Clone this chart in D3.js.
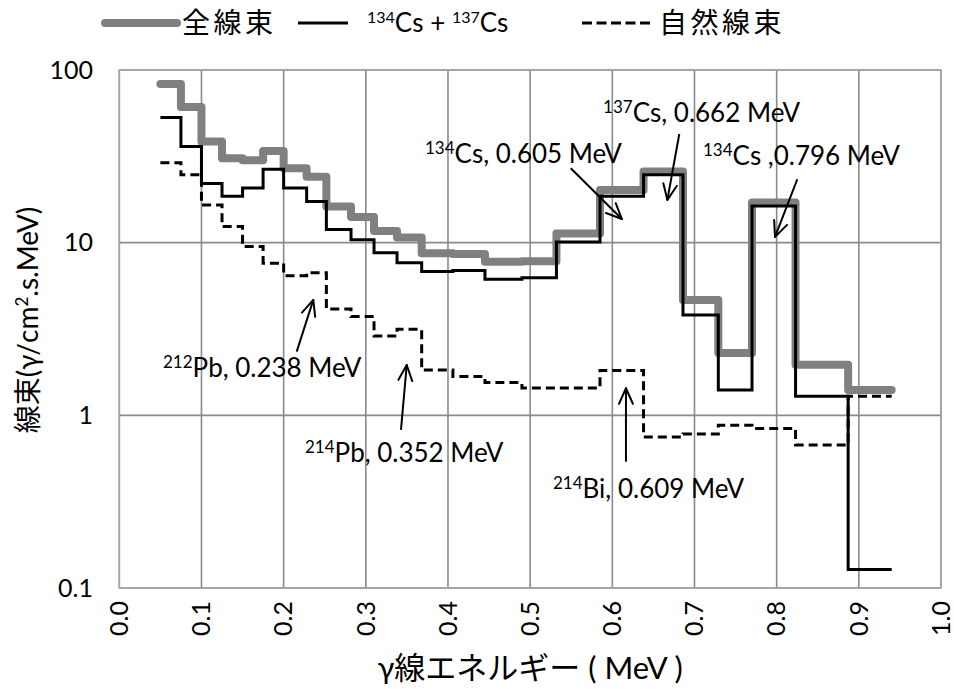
<!DOCTYPE html>
<html>
<head>
<meta charset="utf-8">
<script src="https://cdn.jsdelivr.net/npm/d3@7"></script>
<style>
  html, body { margin: 0; padding: 0; background: #fff; }
  svg { display: block; }
  text { font-family: Lato, "Noto Sans CJK JP", sans-serif; fill: #000; }
</style>
</head>
<body>
<svg id="chart" width="954" height="689"></svg>
<script>
// Energy bin edges (MeV) for the step spectra
const binEdges = [0.05, 0.075, 0.1, 0.125, 0.15, 0.175, 0.2, 0.228, 0.252, 0.282, 0.31, 0.338,
  0.368, 0.406, 0.445, 0.49, 0.532, 0.585, 0.638, 0.686, 0.729, 0.77, 0.823, 0.887, 0.94];

// Flux per bin (γ/cm².s.MeV)
const totalFlux = [83, 61, 38.5, 30.8, 30, 34, 27, 24.1, 16.2, 14.1, 11.7, 10.7,
  8.69, 8.6, 7.76, 7.8, 11.3, 20.2, 25.8, 4.66, 2.3, 17.1, 1.96, 1.40];
const csFlux = [53, 36, 22, 18.6, 20.7, 26.6, 20.7, 17.3, 11.9, 10.4, 8.75, 7.66,
  6.8, 6.9, 6.14, 6.26, 10.1, 18.6, 24.7, 3.81, 1.40, 16.3, 1.29, 0.128];
const naturalFlux = [29, 24.7, 16.5, 12.4, 9.5, 7.6, 6.44, 6.7, 4.13, 3.73, 2.88, 3.15,
  1.83, 1.68, 1.55, 1.44, 1.44, 1.82, 0.75, 0.78, 0.875, 0.84, 0.674, 1.29];

// Axis ticks
const xTicks = [0.0, 0.1, 0.2, 0.3, 0.4, 0.5, 0.6, 0.7, 0.8, 0.9, 1.0];
const yTicks = [0.1, 1, 10, 100];
const yTickLabels = ["0.1", "1", "10", "100"];

// Peak annotations: tip / tail of the arrow and label anchor, in (MeV, flux)
const peakLabels = [
  { iso: "134", rest: "Cs, 0.605 MeV", at: [0.372, 28.9], tail: [0.5494, 27.0], tip: [0.6116, 13.7] },
  { iso: "137", rest: "Cs, 0.662 MeV", at: [0.5887, 50.2], tail: [0.6815, 42.6], tip: [0.667, 17.7] },
  { iso: "134", rest: "Cs ,0.796 MeV", at: [0.7103, 28.2], tail: [0.8251, 23.3], tip: [0.798, 10.8] },
  { iso: "212", rest: "Pb, 0.238 MeV", at: [0.0532, 1.675], tail: [0.2159, 2.34], tip: [0.2361, 4.66] },
  { iso: "214", rest: "Pb, 0.352 MeV", at: [0.226, 0.539], tail: [0.3428, 0.823], tip: [0.3498, 1.957] },
  { iso: "214", rest: "Bi, 0.609 MeV", at: [0.5278, 0.334], tail: [0.6166, 0.539], tip: [0.6166, 1.435] }
];

const svg = d3.select("#chart");
const plot = { left: 119.3, right: 941, top: 70, bottom: 588 };

const x = d3.scaleLinear().domain([0, 1]).range([plot.left, plot.right]);
const y = d3.scaleLog().domain([0.1, 100]).range([plot.bottom, plot.top]);

const gridColor = "#8a8a8a";

// Grid
svg.append("g").selectAll("line.vg").data(xTicks).join("line")
  .attr("x1", d => x(d)).attr("x2", d => x(d))
  .attr("y1", plot.top).attr("y2", plot.bottom)
  .attr("stroke", gridColor).attr("stroke-width", 1.6);
svg.append("g").selectAll("line.hg").data(yTicks).join("line")
  .attr("x1", plot.left).attr("x2", plot.right)
  .attr("y1", d => y(d)).attr("y2", d => y(d))
  .attr("stroke", gridColor).attr("stroke-width", 1.6);
svg.append("rect")
  .attr("x", plot.left).attr("y", plot.top)
  .attr("width", plot.right - plot.left).attr("height", plot.bottom - plot.top)
  .attr("fill", "none").attr("stroke", "#a6a6a6").attr("stroke-width", 1.6);

// Y tick labels
svg.append("g").selectAll("text").data(yTicks).join("text")
  .attr("x", 93).attr("y", d => y(d)).attr("dy", "0.35em")
  .attr("text-anchor", "end").attr("font-size", 25)
  .text((d, i) => yTickLabels[i]);

// X tick labels, rotated
svg.append("g").selectAll("text").data(xTicks).join("text")
  .attr("transform", d => `translate(${x(d)},601) rotate(-90)`)
  .attr("dy", "0.35em").attr("text-anchor", "end").attr("font-size", 25)
  .text(d => d.toFixed(1));

// Axis titles
svg.append("text")
  .attr("x", (plot.left + plot.right) / 2).attr("y", 679)
  .attr("text-anchor", "middle").attr("font-size", 31)
  .text("γ線エネルギー ( MeV )");

const yTitle = svg.append("text")
  .attr("transform", `translate(38,${(plot.top + plot.bottom) / 2 - 9}) rotate(-90)`)
  .attr("text-anchor", "middle").attr("font-size", 28);
yTitle.append("tspan").text("線束(γ/cm");
yTitle.append("tspan").attr("dy", -10).attr("font-size", 17).text("2");
yTitle.append("tspan").attr("dy", 10).text(".s.MeV)");

// Step lines
const stepLine = d3.line()
  .x(d => x(d[0])).y(d => y(d[1]))
  .curve(d3.curveStepAfter);
const toSteps = vals => binEdges.map((e, i) => [e, vals[Math.min(i, vals.length - 1)]]);

svg.append("path").datum(toSteps(totalFlux))
  .attr("d", stepLine).attr("fill", "none")
  .attr("stroke", "#808080").attr("stroke-width", 8)
  .attr("stroke-linejoin", "round").attr("stroke-linecap", "round");
svg.append("path").datum(toSteps(csFlux))
  .attr("d", stepLine).attr("fill", "none")
  .attr("stroke", "#000").attr("stroke-width", 3);
svg.append("path").datum(toSteps(naturalFlux))
  .attr("d", stepLine).attr("fill", "none")
  .attr("stroke", "#000").attr("stroke-width", 3)
  .attr("stroke-dasharray", "9,5");

// Annotations with open arrowheads
const ann = svg.append("g");
peakLabels.forEach(p => {
  const t = ann.append("text")
    .attr("x", x(p.at[0])).attr("y", y(p.at[1])).attr("font-size", 26);
  t.append("tspan").attr("font-size", 17).attr("dy", -9).text(p.iso);
  t.append("tspan").attr("dy", 9).text(p.rest);

  const x0 = x(p.tail[0]), y0 = y(p.tail[1]);
  const x1 = x(p.tip[0]), y1 = y(p.tip[1]);
  ann.append("line").attr("x1", x0).attr("y1", y0).attr("x2", x1).attr("y2", y1)
    .attr("stroke", "#000").attr("stroke-width", 2);
  const ang = Math.atan2(y1 - y0, x1 - x0);
  const len = 17, spread = 0.42;
  [ang + Math.PI - spread, ang + Math.PI + spread].forEach(a => {
    ann.append("line")
      .attr("x1", x1).attr("y1", y1)
      .attr("x2", x1 + len * Math.cos(a)).attr("y2", y1 + len * Math.sin(a))
      .attr("stroke", "#000").attr("stroke-width", 2).attr("stroke-linecap", "round");
  });
});

// Legend
const lg = svg.append("g");
lg.append("line").attr("x1", 105).attr("x2", 177).attr("y1", 23).attr("y2", 23)
  .attr("stroke", "#808080").attr("stroke-width", 8).attr("stroke-linecap", "round");
lg.append("text").attr("x", 182).attr("y", 33).attr("font-size", 28)
  .attr("letter-spacing", 3.5).text("全線束");
lg.append("line").attr("x1", 298).attr("x2", 348).attr("y1", 23).attr("y2", 23)
  .attr("stroke", "#000").attr("stroke-width", 3);
const lt = lg.append("text").attr("x", 367).attr("y", 32).attr("font-size", 26);
lt.append("tspan").attr("font-size", 16).attr("dy", -9).text("134");
lt.append("tspan").attr("dy", 9).text("Cs + ");
lt.append("tspan").attr("font-size", 16).attr("dy", -9).text("137");
lt.append("tspan").attr("dy", 9).text("Cs");
lg.append("line").attr("x1", 582).attr("x2", 652).attr("y1", 23).attr("y2", 23)
  .attr("stroke", "#000").attr("stroke-width", 3).attr("stroke-dasharray", "10,4.5");
lg.append("text").attr("x", 659).attr("y", 33).attr("font-size", 28)
  .attr("letter-spacing", 3.5).text("自然線束");
</script>
</body>
</html>
